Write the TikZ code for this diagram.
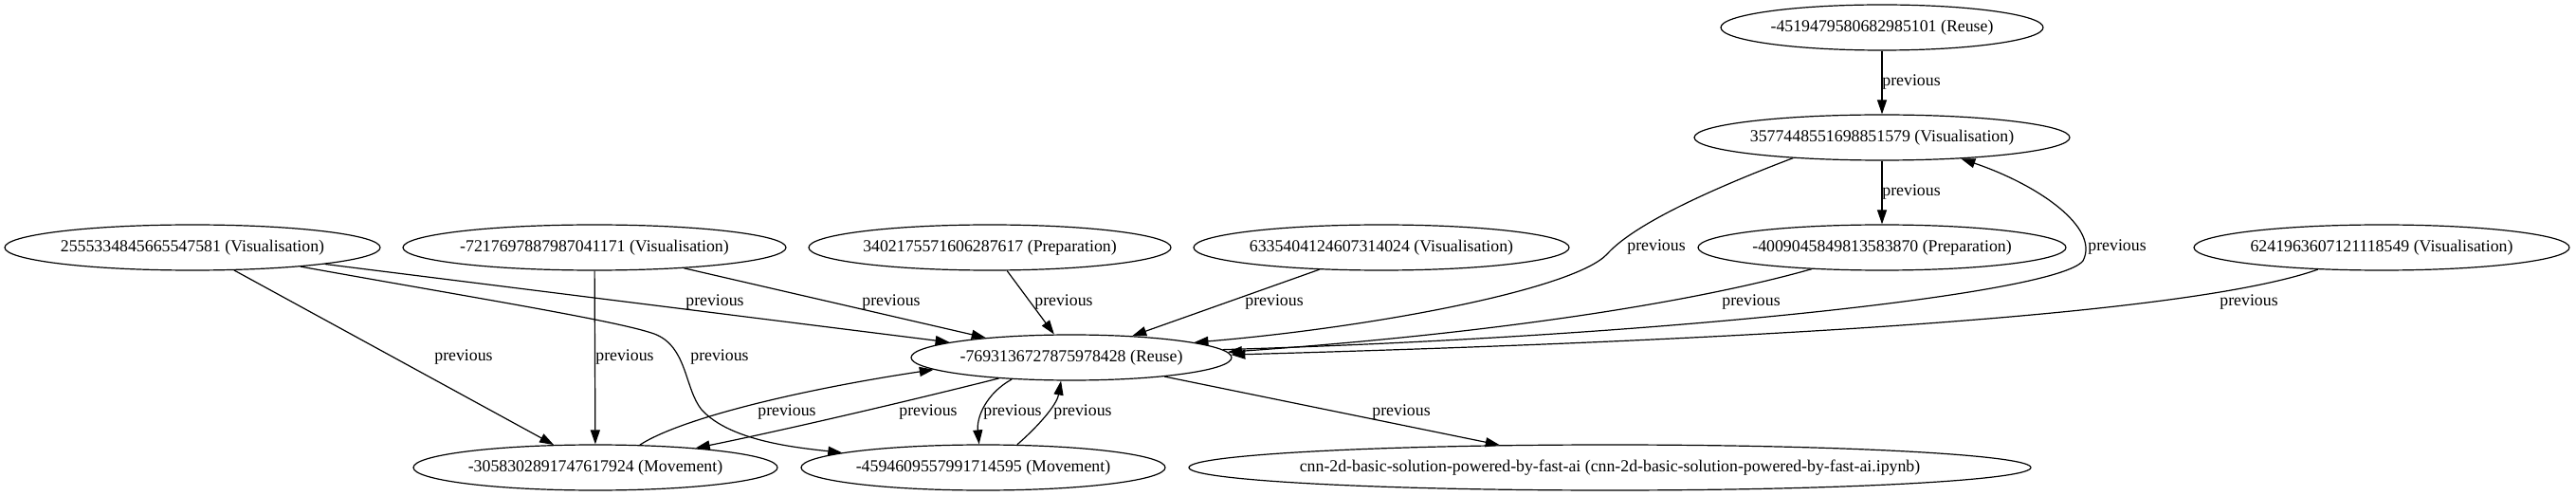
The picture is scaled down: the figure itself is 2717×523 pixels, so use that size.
\documentclass[tikz,border=0pt]{standalone}
\usepackage{fontspec}
\setmainfont{Liberation Serif}
\usetikzlibrary{shapes.geometric,arrows.meta}
\tikzset{
  nd/.style={ellipse, draw, line width=0.6pt, inner sep=0pt, minimum height=24pt},
  ed/.style={line width=0.6pt, -{Triangle[length=7.5pt,width=5pt]}},
  lb/.style={inner sep=0pt, font=\fontsize{8.9}{10}\selectfont}
}
\newcommand{\nt}[1]{\makebox[0pt]{\fontsize{8.9}{10}\selectfont #1}}
\begin{document}
\begin{tikzpicture}[x=0.5pt,y=-0.5pt]
\useasboundingbox (0,0) rectangle (2717,523);
% nodes
\node[nd, minimum width=170pt] (A) at (1985,29) {\nt{-4519479580682985101 (Reuse)}};
\node[nd, minimum width=198pt] (B) at (1985,145) {\nt{3577448551698851579 (Visualisation)}};
\node[nd, minimum width=194pt] (C) at (1985,261) {\nt{-4009045849813583870 (Preparation)}};
\node[nd, minimum width=198pt] (D) at (2512,261) {\nt{6241963607121118549 (Visualisation)}};
\node[nd, minimum width=169pt] (E) at (1130,377) {\nt{-7693136727875978428 (Reuse)}};
\node[nd, minimum width=198pt] (F) at (203,261) {\nt{2555334845665547581 (Visualisation)}};
\node[nd, minimum width=202pt] (G) at (627,261) {\nt{-7217697887987041171 (Visualisation)}};
\node[nd, minimum width=191pt] (H) at (1044,261) {\nt{3402175571606287617 (Preparation)}};
\node[nd, minimum width=198pt] (I) at (1457,261) {\nt{6335404124607314024 (Visualisation)}};
\node[nd, minimum width=192pt] (J) at (628,493) {\nt{-3058302891747617924 (Movement)}};
\node[nd, minimum width=192pt] (K) at (1037,493) {\nt{-4594609557991714595 (Movement)}};
\node[nd, minimum width=444pt] (L) at (1698,493) {\nt{cnn-2d-basic-solution-powered-by-fast-ai (cnn-2d-basic-solution-powered-by-fast-ai.ipynb)}};
% straight edges
\draw[ed] (A) -- (B);
\draw[ed] (B) -- (C);
\draw[ed] (F) -- (E);
\draw[ed] (G) -- (E);
\draw[ed] (H) -- (E);
\draw[ed] (I) -- (E);
\draw[ed] (F) -- (J);
\draw[ed] (G) -- (J);
\draw[ed] (E) -- (L);
% curved edges
\draw[ed] (F.-10) .. controls (500,314) and (650,338) .. (690,352)
  .. controls (725,365) and (722,410) .. (740,432)
  .. controls (770,465) and (840,472) .. (K.174);
\draw[ed] (J.27) .. controls (720,440) and (850,410) .. (E.185);
\draw[ed] (E.196) .. controls (950,425) and (820,455) .. (J.11);
\draw[ed] (E.200) .. controls (1040,415) and (1030,440) .. (K.100);
\draw[ed] (K.34) .. controls (1100,445) and (1115,425) .. (E.246);
\draw[ed] (B.193) .. controls (1790,205) and (1720,240) .. (1695,268)
  .. controls (1660,305) and (1450,345) .. (E.7);
\draw[ed] (E.3) .. controls (1750,355) and (2170,310) .. (2197,275)
  .. controls (2215,240) and (2150,195) .. (B.-15);
\draw[ed] (C.197) .. controls (1800,315) and (1600,350) .. (E.2);
\draw[ed] (D.199) .. controls (2300,335) and (1800,360) .. (E.1);
% labels
\node[lb] (l1) at (2016,87) {previous};
\node[lb] (l2) at (2016,203) {previous};
\node[lb] (l3) at (1747,261) {previous};
\node[lb] (l4) at (2233,261) {previous};
\node[lb] (l5) at (1847,319) {previous};
\node[lb] (l6) at (2372,319) {previous};
\node[lb] (l7) at (1344,319) {previous};
\node[lb] (l8) at (1122,319) {previous};
\node[lb] (l9) at (940,319) {previous};
\node[lb] (l10) at (754,319) {previous};
\node[lb] (l11) at (489,377) {previous};
\node[lb] (l12) at (659,377) {previous};
\node[lb] (l13) at (759,377) {previous};
\node[lb] (l14) at (830,435) {previous};
\node[lb] (l15) at (979,435) {previous};
\node[lb] (l16) at (1068,435) {previous};
\node[lb] (l17) at (1142,435) {previous};
\node[lb] (l18) at (1478,435) {previous};
\end{tikzpicture}
\end{document}
